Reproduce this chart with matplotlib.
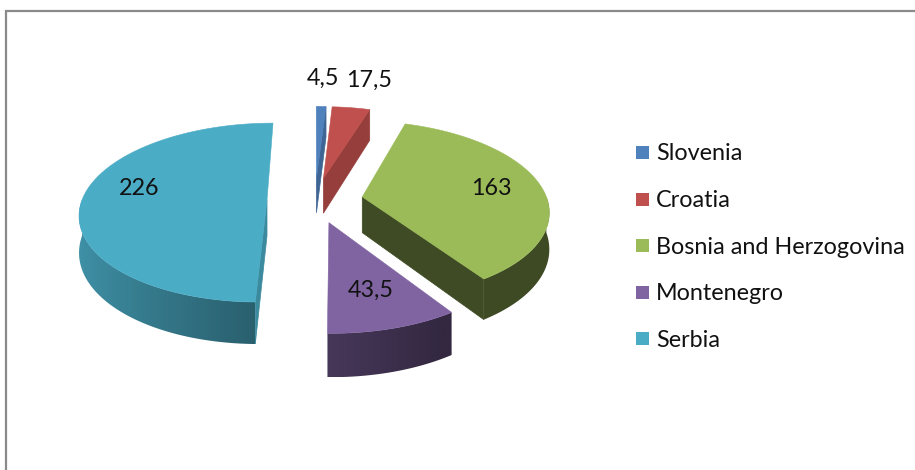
import numpy as np
import matplotlib
matplotlib.use("Agg")
import matplotlib.pyplot as plt
from matplotlib.patches import Polygon, Rectangle
from matplotlib.colors import to_rgb

# datos
countries = ["Slovenia", "Croatia", "Bosnia and Herzogovina", "Montenegro", "Serbia"]
values = [4.5, 17.5, 163, 43.5, 226]
colors = ["#4F81BD", "#C0504D", "#9BBB59", "#8064A2", "#4BACC6"]

# geometria del pastel 3D (pixeles)
cx, cy = 315, 200
R = 185          # radio
ty = 0.474       # aplastamiento vertical
k = 0.143        # perspectiva
d = 48           # separacion de porciones
h = 36           # grosor

# sombreado de las caras radiales y posicion de etiquetas
wall_shade = [0.78, 0.78, 0.40, 0.45, 0.80]
label_frac = [1.47, 1.47, 0.72, 0.68, 0.72]
label_rot = [0, 2, 0, 0, 10]
fs = 16.8

plt.rcParams["font.family"] = ["Lato", "DejaVu Sans"]

fig = plt.figure(figsize=(9.15, 4.70), dpi=100)
ax = fig.add_axes([0, 0, 1, 1])


def proj(X, N, z=0.0):
    s = 1.0 / (1.0 + k * N / R)
    return cx + X * s, cy - N * ty * s + z * s


def shade(c, f):
    r, g, b = to_rgb(c)
    return np.array([r * f, g * f, b * f])


def side_f(t):
    return np.maximum(0.40, 0.55 - 0.30 * np.sin(np.radians(t)))


total = sum(values)
starts = np.cumsum([0] + values[:-1]) / total * 360
ends = np.cumsum(values) / total * 360

slices = []
for i in range(len(values)):
    a, b = starts[i], ends[i]
    m = np.radians((a + b) / 2)
    apex = (d * np.sin(m), d * np.cos(m))
    slices.append((i, a, b, apex))

# de atras hacia adelante
slices.sort(key=lambda s: -s[3][1])

for i, a, b, (AX, AN) in slices:
    col = colors[i]

    def rim(t, z=0.0):
        t = np.radians(t)
        return proj(AX + R * np.sin(t), AN + R * np.cos(t), z)

    apex_top = proj(AX, AN, 0)
    apex_bot = proj(AX, AN, h)

    # caras radiales
    wc = shade(col, wall_shade[i])
    if np.sin(np.radians(a)) < -1e-6:
        ax.add_patch(Polygon([apex_top, rim(a), rim(a, h), apex_bot],
                             closed=True, fc=wc, ec=wc, lw=0.5))
    if np.sin(np.radians(b)) > 1e-6:
        ax.add_patch(Polygon([apex_top, rim(b), rim(b, h), apex_bot],
                             closed=True, fc=wc, ec=wc, lw=0.5))

    # pared exterior con degradado
    lo, hi = max(a, 90), min(b, 270)
    if hi > lo:
        ts = np.linspace(lo, hi, 200)
        wall = Polygon([rim(t) for t in ts] + [rim(t, h) for t in ts[::-1]],
                       closed=True, fc="none", ec="none")
        ax.add_patch(wall)
        rx = np.array([rim(t)[0] for t in ts])
        order = np.argsort(rx)
        xs = np.linspace(rx.min(), rx.max(), 400)
        tx = np.interp(xs, rx[order], ts[order])
        grad = np.array([shade(col, side_f(t)) for t in tx])[None, :, :]
        ys = [rim(t)[1] for t in ts] + [rim(t, h)[1] for t in ts]
        im = ax.imshow(grad, extent=(rx.min(), rx.max(), max(ys), min(ys)),
                       aspect="auto", interpolation="bilinear")
        im.set_clip_path(wall)

    # cara superior
    ts = np.linspace(a, b, max(int(b - a) * 2, 4))
    pts = [apex_top] + [rim(t) for t in ts]
    ax.add_patch(Polygon(pts, closed=True, fc=col, ec=col, lw=0.4))

# etiquetas
for i, a, b, (AX, AN) in slices:
    m = np.radians((a + b) / 2 + label_rot[i])
    lx, ly = proj(AX + label_frac[i] * R * np.sin(m),
                  AN + label_frac[i] * R * np.cos(m))
    txt = f"{values[i]:g}".replace(".", ",")
    ax.text(lx, ly, txt, ha="center", va="center", fontsize=fs, color="#111111")

# leyenda
for j, name in enumerate(countries):
    yc = 152.5 + j * 46.6
    ax.add_patch(Rectangle((636, yc - 6.5), 13, 13, fc=colors[j], ec="none"))
    ax.text(656, yc + 8, name, ha="left", va="baseline", fontsize=fs, color="#111111")

# marco
ax.plot([6, 6, 915], [470, 11, 11], color="#8a8a8a", lw=1.6, solid_joinstyle="miter")

ax.set_xlim(0, 915)
ax.set_ylim(470, 0)
ax.axis("off")

fig.savefig("out.png", dpi=100)
